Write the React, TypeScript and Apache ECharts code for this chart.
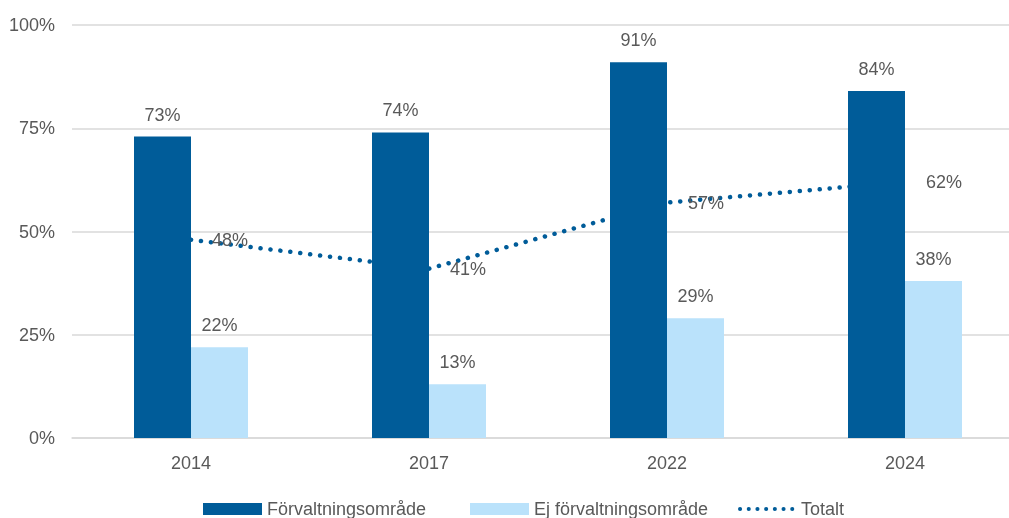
import React, { useEffect, useRef } from "react";
import * as echarts from "echarts";

const categories = ["2014", "2017", "2022", "2024"];
const forvaltning = [73, 74, 91, 84];
const ejForvaltning = [22, 13, 29, 38];
const totalt = [48, 41, 57, 62];
const yTicks = { min: 0, max: 100, interval: 25 };
const seriesNames = ["Förvaltningsområde", "Ej förvaltningsområde", "Totalt"];

const DARK = "#005c99";
const LIGHT = "#bae2fb";
const TEXT = "#595959";
const FONT = "'Liberation Sans', Arial, sans-serif";

export default function App() {
  const ref = useRef<HTMLDivElement>(null);
  useEffect(() => {
    if (!ref.current) return;
    const chart = echarts.init(ref.current, null, { renderer: "svg" });
    const legendText = { fontSize: 18, color: TEXT, fontFamily: FONT };
    const labelStyle = { fontSize: 18, color: TEXT, fontFamily: FONT, formatter: "{c}%" };
    chart.setOption({
      animation: false,
      textStyle: { fontFamily: FONT, color: TEXT },
      grid: { left: 72, top: 25, right: 16, height: 413 },
      legend: [
        {
          left: 198,
          top: 495,
          itemWidth: 59,
          itemHeight: 12,
          textStyle: legendText,
          data: [{ name: seriesNames[0], icon: "rect" }],
        },
        {
          left: 465,
          top: 495,
          itemWidth: 59,
          itemHeight: 12,
          textStyle: legendText,
          data: [{ name: seriesNames[1], icon: "rect" }],
        },
        {
          left: 733,
          top: 495,
          itemWidth: 56,
          itemHeight: 12,
          textStyle: legendText,
          lineStyle: { color: DARK, width: 4, type: [0.1, 8.6], cap: "round" },
          data: [{ name: seriesNames[2] }],
        },
      ],
      xAxis: {
        type: "category",
        data: categories,
        axisLine: { show: true, lineStyle: { color: "#d9d9d9", width: 1.5 } },
        axisTick: { show: false },
        axisLabel: { fontSize: 18, color: TEXT, margin: 16, fontFamily: FONT },
      },
      yAxis: {
        type: "value",
        min: yTicks.min,
        max: yTicks.max,
        interval: yTicks.interval,
        axisLine: { show: false },
        axisTick: { show: false },
        splitLine: { lineStyle: { color: "#d9d9d9", width: 1.5 } },
        axisLabel: { fontSize: 18, color: TEXT, margin: 17, formatter: "{value}%", fontFamily: FONT },
      },
      series: [
        {
          name: seriesNames[0],
          type: "bar",
          data: forvaltning,
          barWidth: 57,
          barGap: "0%",
          z: 3,
          itemStyle: { color: DARK },
          label: { show: true, position: "top", distance: 13, ...labelStyle },
        },
        {
          name: seriesNames[1],
          type: "bar",
          data: ejForvaltning,
          barWidth: 57,
          barGap: "0%",
          z: 3,
          itemStyle: { color: LIGHT },
          label: { show: true, position: "top", distance: 13, ...labelStyle },
        },
        {
          name: seriesNames[2],
          type: "line",
          data: totalt,
          z: 1,
          symbol: "circle",
          symbolSize: 2,
          showSymbol: true,
          itemStyle: { color: "rgba(0,0,0,0)" },
          lineStyle: { color: DARK, width: 4.5, type: [0.1, 9.9], cap: "round" },
          label: { show: true, position: "right", distance: 20, ...labelStyle },
        },
      ],
    });
    return () => chart.dispose();
  }, []);
  return (
    <div style={{ position: "fixed", left: 0, top: 0, width: 1009, height: 518, overflow: "hidden" }}>
      <div ref={ref} style={{ width: 1040, height: 518 }} />
    </div>
  );
}
